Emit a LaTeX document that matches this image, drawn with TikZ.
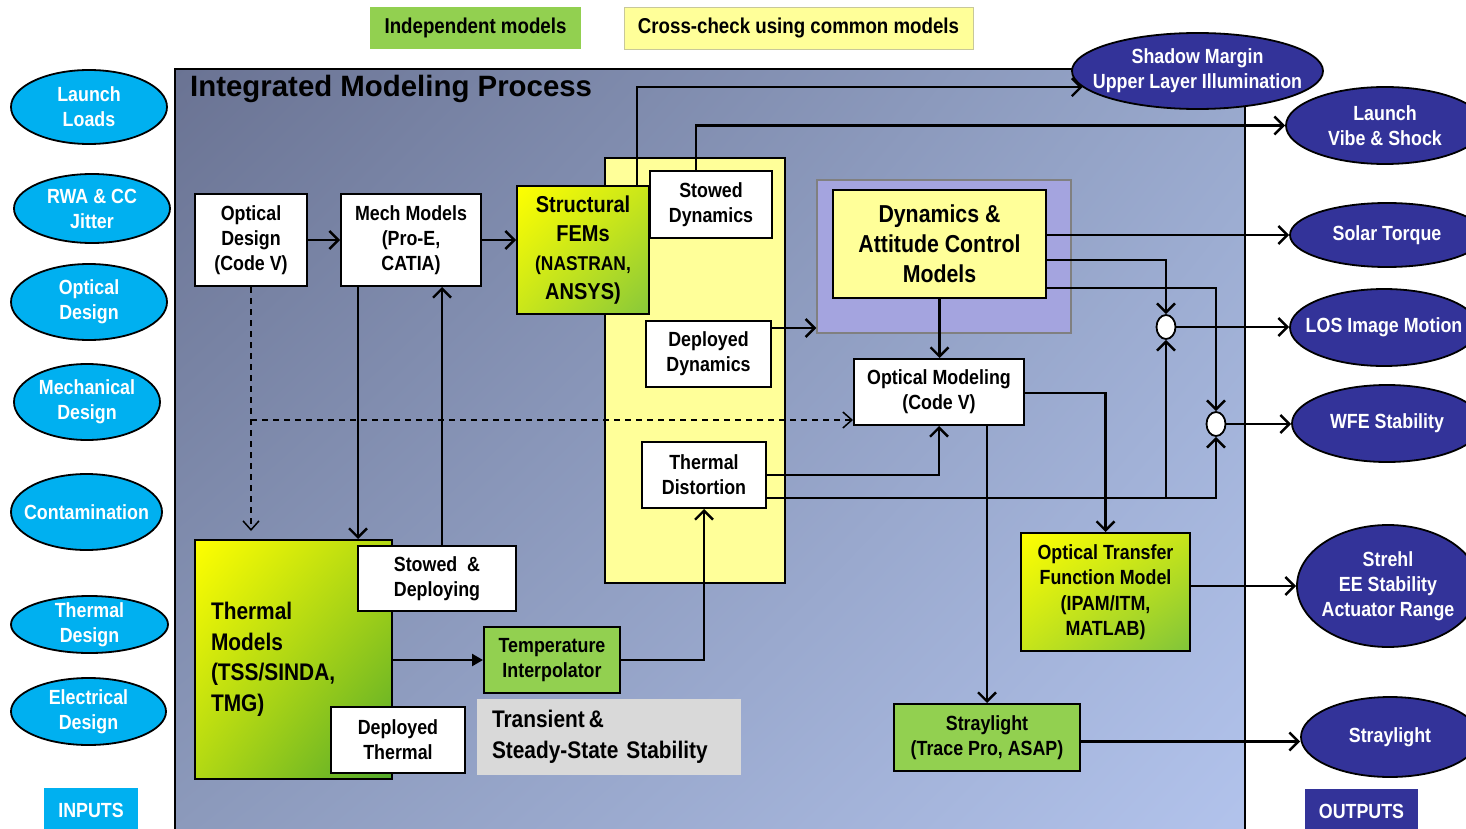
\documentclass[tikz,border=0pt]{standalone}
\usepackage{fontspec}
\setmainfont{Liberation Sans}[FakeStretch=0.87]
\newfontfamily\titlefont{Liberation Sans}
\usetikzlibrary{shapes.geometric,arrows.meta,calc,shadings}
\definecolor{cyanin}{HTML}{00B0F0}
\definecolor{navyout}{HTML}{333399}
\definecolor{grn}{HTML}{92D050}
\definecolor{lyel}{HTML}{FFFF99}
\definecolor{lyelb}{HTML}{C8C89A}
\definecolor{lav}{HTML}{A4A4DF}
\definecolor{frameTL}{HTML}{6A7393}
\definecolor{frameBR}{HTML}{B2C3EC}
\definecolor{frameTR}{HTML}{98A8CC}
\definecolor{frameBL}{HTML}{8C9ABC}
\definecolor{gry}{HTML}{D9D9D9}
\definecolor{ggreen}{HTML}{52A82C}
\definecolor{ggreenA}{HTML}{88C83A}
\definecolor{ggreenB}{HTML}{80C43A}
\newcommand\fsz[2]{\fontsize{#1}{#2}\selectfont}
\begin{document}
\begin{tikzpicture}[x=1pt,y=-1pt,
  every node/.style={inner sep=0pt, font=\fsz{20.5}{25}\bfseries},
  inell/.style={ellipse, draw=black, line width=1.8pt, fill=cyanin, text=white, align=center, inner xsep=-25pt, inner ysep=-4pt},
  outell/.style={ellipse, draw=black, line width=1.8pt, fill=navyout, text=white, align=center, inner xsep=-25pt, inner ysep=-4pt},
  wbox/.style={rectangle, draw=black, line width=2pt, fill=white, align=center},
  gbox/.style={rectangle, draw=black, line width=2pt, fill=grn, align=center},
  ygrad/.style={rectangle, draw=black, line width=2pt, shade, upper left=yellow, lower right=#1, upper right=yellow!55!#1, lower left=yellow!55!#1, align=center},
  conn/.style={line width=2.4pt, -{Straight Barb[length=9pt,width=18pt]}},
  dconn/.style={line width=1.5pt, dash pattern=on 6pt off 5pt, -{Straight Barb[length=9pt,width=16pt]}},
  fconn/.style={line width=2.4pt, -{Triangle[length=11pt,width=12pt]}},
  junc/.style={ellipse, draw=black, line width=1.8pt, fill=white, minimum width=19pt, minimum height=24pt},
]
\useasboundingbox (0,0) rectangle (1466,829);
\fill[white] (0,0) rectangle (1466,829);

% legend
\node[fill=grn, minimum width=211pt, minimum height=42pt, font=\fsz{21.5}{25}\bfseries] (indep) at (475.5,28) {Independent models};
\node[fill=lyel, draw=lyelb, line width=0.8pt, minimum width=349pt, minimum height=42pt, font=\fsz{21.5}{25}\bfseries] (cross) at (798.5,28) {Cross-check using common models};

% frame
\shade[upper left=frameTL, lower right=frameBR, upper right=frameTR, lower left=frameBL] (175,69) rectangle (1245,835);
\draw[line width=2pt] (175,835) -- (175,69) -- (1245,69) -- (1245,835);
\node[anchor=base west, font=\titlefont\fsz{29.4}{34}\bfseries] (title) at (190,97) {Integrated Modeling Process};

% inputs
\node[inell, minimum width=156pt, minimum height=74pt] (launch) at (89,107) {Launch\\Loads};
\node[inell, minimum width=156pt, minimum height=69pt] (rwa) at (92,208.5) {RWA \& CC\\Jitter};
\node[inell, minimum width=156pt, minimum height=76pt] (optin) at (89,302) {Optical\\Design};
\node[inell, minimum width=146pt, minimum height=76pt] (mechin) at (87,402) {Mechanical\\Design};
\node[inell, minimum width=151pt, minimum height=76pt] (contam) at (86.5,512) {Contamination};
\node[inell, minimum width=157pt, minimum height=57pt] (thin) at (89.5,624.5) {Thermal\\Design};
\node[inell, minimum width=155pt, minimum height=67pt] (elin) at (88.5,711.5) {Electrical\\Design};
\node[fill=cyanin, text=white, minimum width=94pt, minimum height=44pt] (inputs) at (91,810) {INPUTS};

% outputs
\node[outell, minimum width=251pt, minimum height=76pt] (shadow) at (1197.5,71) {Shadow Margin\\Upper Layer Illumination};
\node[outell, minimum width=198pt, minimum height=77pt] (lv) at (1385,125.5) {Launch\\Vibe \& Shock};
\node[outell, minimum width=194pt, minimum height=64pt] (solar) at (1387,235) {Solar Torque};
\node[outell, minimum width=188pt, minimum height=77pt] (los) at (1384,327.5) {LOS Image Motion};
\node[outell, minimum width=190pt, minimum height=77pt] (wfe) at (1387,423.5) {WFE Stability};
\node[outell, minimum width=182pt, minimum height=122pt] (strehl) at (1388,586) {Strehl\\EE Stability\\Actuator Range};
\node[outell, minimum width=178pt, minimum height=80pt] (strayo) at (1390,737) {Straylight};
\node[fill=navyout, text=white, minimum width=113pt, minimum height=44pt] (outputs) at (1361.5,811) {OUTPUTS};

% inner boxes
\node[fill=lyel, draw=black, line width=1.5pt, minimum width=180pt, minimum height=425pt] (ycol) at (695,370.5) {};
\node[fill=lav, draw=gray, line width=1.5pt, minimum width=254pt, minimum height=153pt] (purp) at (944,256.5) {};
\node[wbox, minimum width=112pt, minimum height=92pt] (optd) at (251,240) {Optical\\Design\\(Code V)};
\node[wbox, minimum width=140pt, minimum height=92pt] (mech) at (411,240) {Mech Models\\(Pro-E,\\CATIA)};
\node[ygrad=ggreenA, minimum width=132pt, minimum height=128pt, font=\fsz{23}{29}\bfseries] (fem) at (583,250) {Structural\\FEMs\\\fsz{20}{25}\bfseries(NASTRAN,\\ANSYS)};
\node[wbox, minimum width=122pt, minimum height=67pt] (stowdyn) at (711,204.5) {Stowed\\Dynamics};
\node[wbox, minimum width=125pt, minimum height=66pt] (depdyn) at (708.5,354) {Deployed\\Dynamics};
\node[wbox, minimum width=124pt, minimum height=66pt] (thdist) at (704,475) {Thermal\\Distortion};
\node[rectangle, draw=black, line width=2pt, fill=lyel, align=center, font=\fsz{24.5}{30}\bfseries, minimum width=213pt, minimum height=108pt] (dac) at (939.5,244) {Dynamics \&\\Attitude Control\\Models};
\node[wbox, minimum width=170pt, minimum height=66pt] (optmod) at (939,392) {Optical Modeling\\(Code V)};
\node[ygrad=ggreenB, minimum width=169pt, minimum height=118pt, font=\fsz{20.5}{25.5}\bfseries] (otf) at (1105.5,592) {Optical Transfer\\Function Model\\(IPAM/ITM,\\MATLAB)};
\node[gbox, minimum width=186pt, minimum height=67pt] (stray) at (987,737.5) {Straylight\\(Trace Pro, ASAP)};
\node[ygrad=ggreen, minimum width=197pt, minimum height=239pt, align=left, text width=165pt, font=\fsz{24}{30.5}\bfseries] (thm) at (293.5,659.5) {Thermal\\Models\\(TSS/SINDA,\\TMG)};
\node[wbox, minimum width=158pt, minimum height=65pt] (stdep) at (437,578.5) {Stowed \ \&\\Deploying};
\node[wbox, minimum width=134pt, minimum height=66pt] (depth) at (398,740) {Deployed\\Thermal};
\node[gbox, minimum width=136pt, minimum height=66pt] (tint) at (552,660) {Temperature\\Interpolator};
\node[fill=gry, minimum width=264pt, minimum height=76pt, align=left, text width=234pt, font=\fsz{24}{31}\bfseries] (trans) at (609,737) {Transient\,\&\\Steady-State Stability};
\node[junc] (j1) at (1166,327) {};
\node[junc] (j2) at (1216,424) {};

% connectors
\draw[conn] (optd.east) -- (mech.west);
\draw[conn] (mech.east) -- (mech.east -| fem.west);
\draw[dconn] (optd.south) -- ($(optd.south |- thm.north)+(0,-8)$);
\coordinate (dj) at ($(optd.south)+(0,133)$);
\draw[dconn] (dj) -- (dj -| optmod.west);
\coordinate (m1) at ([xshift=-53pt]mech.south);
\draw[conn] (m1) -- (m1 |- thm.north);
\coordinate (s1) at ([xshift=5pt]stdep.north);
\draw[conn] (s1) -- (s1 |- mech.south);
\draw[fconn] (tint.west -| thm.east) -- (tint.west);
\draw[conn] (tint.east) -| (thdist.south);
\coordinate (f1) at ([xshift=54pt]fem.north);
\draw[conn] (f1) |- (shadow.188);
\coordinate (sd1) at ([xshift=-15pt]stowdyn.north);
\draw[conn] (sd1) |- (lv.west);
\coordinate (dd1) at ([yshift=26pt]depdyn.east);
\draw[conn] (dd1) -- (dd1 -| purp.west);
\draw[conn] (solar.west -| dac.east) -- (solar.west);
\draw[conn] ([yshift=-16pt]dac.east) -| (j1.north);
\draw[conn] ([yshift=-44pt]dac.east) -| (j2.north);
\draw[conn] (dac.south) -- (dac.south |- optmod.north);
\draw[conn] (j1.east) -- (j1.east -| los.west);
\draw[conn] (j2.east) -- (j2.east -| wfe.west);
\draw[conn] ([yshift=-1pt]optmod.east) -| (otf.north);
\coordinate (om1) at ([xshift=48pt]optmod.south);
\draw[conn] (om1) -- (om1 |- stray.north);
\draw[conn] (thdist.east) -| (optmod.south);
\coordinate (td) at ([yshift=-23pt]thdist.east);
\draw[conn] (td) -| (j2.south);
\draw[conn] (td -| j1.south) -- (j1.south);
\draw[conn] (strehl.west -| otf.east) -- (strehl.west);
\coordinate (st1) at ([yshift=-4pt]stray.east);
\draw[conn] (st1) -- (st1 -| strayo.west);
\end{tikzpicture}
\end{document}
